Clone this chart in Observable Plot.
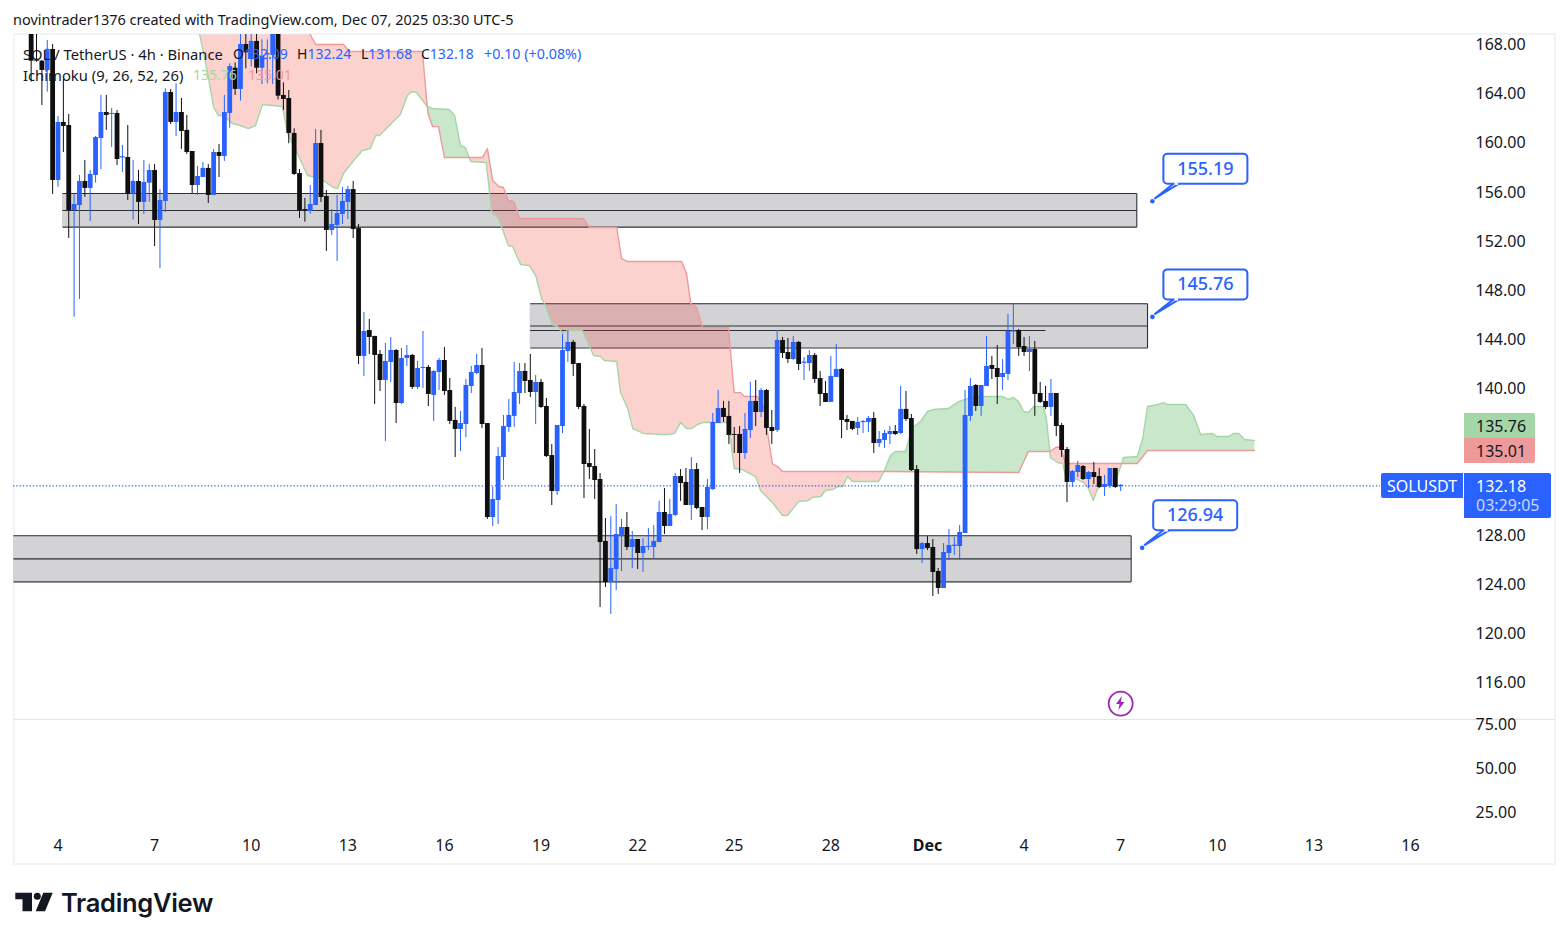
<!DOCTYPE html>
<html>
<head>
<meta charset="utf-8">
<style>
  html,body{margin:0;padding:0;background:#fff;}
  #stage{position:relative;width:1568px;height:940px;overflow:hidden;font-family:"Noto Sans",sans-serif;color:#131722;}
  #stage svg{position:absolute;left:0;background:none;}
  .abs{position:absolute;white-space:nowrap;line-height:1;}
  .tag{position:absolute;box-sizing:border-box;white-space:nowrap;font-size:16px;display:flex;align-items:center;}
  .blue{color:#2962ff}
</style>
<script src="https://cdn.jsdelivr.net/npm/d3@7"></script>
<script src="https://cdn.jsdelivr.net/npm/@observablehq/plot@0.6"></script>
</head>
<body>
<div id="stage">
  <div class="abs" style="left:13px;top:12px;font-size:14.5px;">novintrader1376 created with TradingView.com, Dec 07, 2025 03:30 UTC-5</div>
  <div class="abs" style="left:13px;top:33px;width:1539px;height:828px;border:2px solid #f0f3fa;"></div>
  <div class="abs" style="left:14px;top:719px;width:1540px;height:1px;background:#e0e3eb;"></div>
  <div id="charts"></div>
  <div class="abs" style="left:23px;top:46.5px;font-size:14.75px;">SOL / TetherUS · 4h · Binance</div>
  <div class="abs" style="left:233px;top:47px;font-size:14px;">O<span class="blue">132.09</span></div>
  <div class="abs" style="left:297px;top:47px;font-size:14px;">H<span class="blue">132.24</span></div>
  <div class="abs" style="left:361px;top:47px;font-size:14px;">L<span class="blue">131.68</span></div>
  <div class="abs" style="left:421px;top:47px;font-size:14px;">C<span class="blue">132.18</span></div>
  <div class="abs blue" style="left:484px;top:47px;font-size:14.3px;">+0.10 (+0.08%)</div>
  <div class="abs" style="left:23px;top:67.5px;font-size:14.8px;">Ichimoku (9, 26, 52, 26)</div>
  <div class="abs" style="left:193px;top:68px;font-size:14px;color:#a5d6a7;">135.76</div>
  <div class="abs" style="left:248px;top:68px;font-size:14px;color:#ef9a9a;">135.01</div>
  <div class="tag" style="left:1464px;top:413px;width:71px;height:25px;background:#a5d6a7;padding-left:12px;border-radius:0 2px 0 0;">135.76</div>
  <div class="tag" style="left:1464px;top:438px;width:71px;height:25px;background:#ef9a9a;padding-left:12px;border-radius:0 0 2px 0;">135.01</div>
  <div class="tag" style="left:1381px;top:473px;width:82px;height:25px;background:#2962ff;color:#fff;justify-content:center;border-radius:2px 0 0 2px;">SOLUSDT</div>
  <div class="tag" style="left:1464px;top:473px;width:87px;height:45px;background:#2962ff;color:#fff;padding-left:12px;flex-direction:column;align-items:flex-start;justify-content:center;line-height:19px;border-radius:0 2px 2px 0;"><span>132.18</span><span style="color:#c9d7ff;">03:29:05</span></div>
  <svg width="40" height="24" style="left:15px;top:892px;"><path d="M0.3 0.7H17V19.3H7.5V7.2H0.3Z" fill="#131722"></path><circle cx="22.3" cy="4.2" r="3.5" fill="#131722"></circle><path d="M28.3 0.7H37.7L30 19.3H20.7Z" fill="#131722"></path></svg>
  <div class="abs" style="left:61px;top:890px;font-family:Inter,sans-serif;font-weight:600;font-size:25.5px;color:#131722;letter-spacing:-0.3px;">TradingView</div>
</div>
<script>
// ---------- Candles: SOL/USDT 4h, bar number counted from the "4" tick ----------
const firstBar = -5;
const opens = [170.5,166.70,166.64,165.88,167.60,
156.92,161.65,161.40,154.47,154.88,156.84,156.27,157.33,160.34,162.46,
162.30,162.38,158.75,158.79,155.80,156.84,155.13,156.70,157.73,153.66,
155.21,164.09,161.65,162.46,161.00,159.28,156.51,157.16,157.90,155.70,
159.20,158.88,162.38,166.07,164.34,168.00,166.78,168.25,166.07,167.15,
167.11,169.50,163.85,163.60,160.75,157.49,154.55,154.39,154.88,159.93,
155.61,152.84,153.25,154.15,155.13,156.18,153.00,142.58,144.69,144.21,
142.74,140.62,142.09,143.06,138.74,142.41,142.66,140.05,141.60,141.68,
139.40,141.27,142.25,139.80,137.36,136.63,137.03,140.13,141.19,141.84,
137.11,129.45,130.84,134.34,136.79,137.69,139.56,141.35,140.62,139.64,
140.46,138.50,134.50,131.57,136.87,142.98,143.72,142.00,138.50,133.85,
133.61,132.55,127.50,124.15,125.21,127.98,128.64,127.01,127.66,126.52,
127.02,127.01,127.41,129.86,128.72,129.62,132.79,132.31,130.43,133.36,
130.27,129.45,131.73,137.11,138.34,137.69,136.22,136.22,134.67,136.54,
138.91,138.01,139.80,136.79,136.54,143.88,142.90,142.33,143.72,142.02,
142.00,142.66,140.78,139.56,138.83,140.86,141.52,137.44,137.28,136.71,
137.18,137.20,137.52,135.48,135.73,136.22,136.46,136.30,138.26,137.52,
133.36,126.84,127.33,127.01,125.05,123.67,126.52,127.10,127.09,128.15,
137.69,140.21,138.50,140.13,141.84,141.60,140.86,141.11,144.56,144.69,
143.39,142.90,143.15,139.56,138.91,138.42,139.56,136.95,134.99,132.31,
133.12,133.61,132.55,133.12,132.79,131.90,131.98,133.45,131.97];
const highs = [171.5,171.0,166.70,168.33,168.0,
162.14,165.15,162.30,155.78,157.33,158.55,157.73,160.50,163.85,163.85,
162.79,162.62,159.77,161.40,158.55,157.73,158.55,158.22,158.22,156.18,
164.39,164.34,164.80,163.60,162.22,159.28,158.06,158.39,158.22,159.45,
159.85,163.85,166.43,166.51,170.0,170.0,170.0,170.0,168.38,168.38,
171.0,171.0,164.88,164.25,161.13,157.81,155.45,156.51,161.08,161.00,
156.10,154.55,155.70,156.35,156.43,156.84,153.33,146.16,145.59,144.21,
143.06,143.64,144.12,143.15,143.23,143.47,142.74,142.17,144.61,141.84,
141.43,142.41,143.31,140.78,138.42,138.09,140.70,141.76,142.74,143.23,
137.11,131.90,135.16,137.77,139.07,142.09,142.00,142.00,142.74,141.03,
140.70,139.15,135.40,136.95,144.37,144.69,143.88,142.00,138.66,136.63,
134.99,133.04,129.37,129.53,130.51,129.29,129.86,128.31,127.66,127.74,
128.56,128.80,130.76,131.82,130.92,133.04,133.36,133.45,134.34,133.85,
130.27,132.55,137.93,139.80,138.91,138.91,136.79,136.87,137.93,140.46,
140.62,139.97,139.89,138.17,144.69,144.12,144.04,144.21,143.80,142.49,
143.06,142.82,141.35,140.54,142.58,143.55,141.60,137.77,137.28,137.60,
137.36,137.69,138.01,136.46,136.54,136.87,136.95,140.13,139.72,137.85,
133.69,127.41,127.90,127.66,125.29,127.33,128.47,127.82,128.80,139.80,
140.78,140.29,140.21,144.21,142.58,143.47,142.33,146.00,146.81,144.78,
144.12,144.21,143.80,140.46,140.13,140.70,139.56,137.11,135.16,133.28,
134.02,133.69,133.20,133.93,133.45,132.88,133.45,133.45,132.12];
const lows = [164.93,166.56,163.03,164.12,155.78,
156.37,159.20,152.19,145.78,147.22,155.56,153.58,156.70,157.79,161.00,
159.61,158.14,157.57,155.29,153.71,153.33,154.15,155.13,151.54,149.74,
154.31,161.48,160.50,159.45,159.04,155.86,155.70,157.16,155.04,155.70,
157.16,158.47,161.18,163.85,163.38,166.02,166.16,165.61,164.74,164.80,
164.74,163.49,162.62,159.91,157.33,153.82,153.52,154.15,154.88,155.13,
151.13,152.43,150.32,153.33,153.74,152.19,141.92,140.95,142.74,138.66,
139.72,135.65,140.46,137.11,138.66,141.76,139.89,139.89,139.97,138.50,
137.28,139.80,139.40,137.03,134.34,134.83,135.97,139.56,141.11,136.71,
129.29,128.72,128.88,132.47,136.38,136.79,138.66,139.56,139.23,137.03,
138.34,134.34,130.43,131.25,136.30,142.09,140.95,138.26,131.00,132.55,
130.92,122.12,123.75,121.55,123.50,125.05,126.76,125.29,125.21,124.97,
126.76,126.03,127.41,128.07,128.72,129.53,130.76,130.43,129.21,130.10,
128.39,128.47,131.65,137.11,137.20,135.40,134.67,133.04,134.18,135.89,
136.87,137.60,136.14,135.40,136.38,142.41,142.00,142.25,141.43,140.62,
141.35,140.38,138.50,138.83,138.83,140.86,135.89,136.54,136.54,136.14,
136.30,136.38,134.67,135.16,135.08,135.40,136.14,136.22,137.28,133.20,
126.44,125.70,126.76,123.01,123.18,123.67,125.95,126.35,125.95,128.15,
137.28,138.09,137.69,140.13,140.70,138.66,139.80,140.62,143.55,142.58,
142.58,141.35,137.69,138.74,138.26,137.69,136.05,134.34,130.67,131.90,
132.71,132.47,131.82,132.14,131.82,131.16,131.82,131.82,131.57];
const closes = [166.64,166.64,165.88,167.60,156.92,
161.65,161.32,154.47,154.96,156.84,156.27,157.41,160.42,162.46,162.22,
162.38,158.63,158.85,155.80,156.84,155.13,156.76,157.73,153.66,155.29,
164.09,161.65,162.46,160.91,159.20,156.51,157.24,157.90,155.70,159.20,
158.88,162.46,166.21,164.34,168.00,167.32,168.25,166.07,167.05,167.25,
169.50,163.79,163.52,160.75,157.41,154.47,154.47,154.96,159.93,155.53,
152.84,153.33,154.23,155.21,156.18,152.92,142.58,144.61,144.12,142.66,
140.62,142.17,143.06,138.74,142.41,142.66,140.05,141.60,141.68,139.48,
141.35,142.25,139.72,137.28,136.63,137.11,140.21,141.27,141.84,137.03,
129.45,130.92,134.42,136.87,137.77,139.64,141.35,140.54,139.64,140.46,
138.42,134.42,131.57,136.95,143.06,143.72,141.92,138.42,133.77,133.53,
132.47,127.41,124.15,125.29,128.07,128.64,127.01,127.66,126.52,127.09,
127.10,127.50,129.86,128.72,129.70,132.79,132.22,130.43,133.36,130.19,
129.45,131.90,137.20,138.34,137.60,136.14,136.14,134.67,136.63,138.91,
138.01,139.80,136.71,136.46,143.88,142.82,142.33,143.72,141.92,142.12,
142.66,140.70,139.48,138.83,140.95,141.52,137.36,137.20,136.63,137.20,
137.28,137.52,135.48,135.81,136.30,136.46,136.22,138.26,137.44,133.28,
126.84,127.33,126.93,124.97,123.67,126.60,127.17,127.20,128.23,137.77,
140.13,138.50,140.21,141.76,141.52,140.86,141.19,144.61,144.66,143.31,
142.90,143.15,139.48,138.83,138.42,139.56,136.87,134.91,132.31,133.20,
133.69,132.55,133.12,132.71,131.90,132.14,133.45,131.90,132.08];

// ---------- Ichimoku cloud outlines, read as vertices: [bar, price] ----------
const spanA = [[26.4,168.81],[27.9,165.64],[29.0,162.87],[29.9,162.21],[30.8,162.21],[32.5,161.56],[34.0,161.40],[35.5,161.15],[36.8,161.40],[38.1,163.11],[41.8,162.95],[42.8,160.75],[44.6,159.12],[46.5,157.32],[48.9,157.08],[51.3,156.35],[52.1,156.26],[53.2,157.49],[55.1,158.55],[56.7,159.36],[58.2,159.52],[59.2,160.58],[59.9,160.58],[63.8,162.30],[65.1,163.84],[65.9,164.17],[66.8,164.09],[68.8,162.95],[69.8,162.79],[72.9,162.70],[73.9,162.21],[75.0,159.77],[75.9,159.60],[76.6,158.79],[76.9,158.46],[79.8,158.38],[80.8,154.31],[82.1,153.82],[83.9,151.62],[84.7,151.54],[86.2,150.07],[87.8,149.99],[89.0,149.17],[90.1,147.30],[90.8,146.73],[92.1,145.18],[93.1,145.02],[94.0,144.45],[94.9,144.69],[97.7,144.69],[99.8,142.65],[101.1,142.57],[101.8,142.25],[104.1,142.16],[104.8,139.64],[106.1,138.41],[107.1,136.70],[109.1,136.30],[112.8,136.21],[114.9,136.30],[116.0,137.19],[117.1,136.70],[118.0,136.70],[119.2,137.03],[120.1,137.19],[124.9,137.19],[126.0,133.44],[127.5,133.36],[130.0,132.79],[130.9,131.65],[133.1,130.67],[135.0,129.61],[135.9,129.61],[138.0,130.75],[139.8,130.84],[140.6,131.08],[142.1,131.16],[143.0,131.65],[144.3,131.73],[145.4,131.98],[146.2,131.98],[147.1,132.79],[148.0,132.39],[152.9,132.39],[153.9,133.20],[155.1,134.50],[156.0,134.83],[157.9,134.83],[159.2,136.79],[160.7,137.28],[162.0,138.09],[163.1,138.25],[165.9,138.33],[167.8,138.90],[170.6,139.31],[176.0,139.31],[177.1,139.07],[178.0,139.23],[179.0,138.90],[179.9,138.09],[180.8,138.01],[181.8,138.50],[183.6,138.50],[184.2,137.36],[184.8,134.83],[184.9,134.34],[186.2,133.93],[187.2,133.85],[187.7,132.87],[189.6,132.63],[191.1,132.30],[192.0,131.81],[192.9,130.84],[193.7,131.81],[194.6,132.06],[196.7,132.06],[197.6,133.12],[198.2,133.85],[198.5,134.34],[201.1,134.42],[202.1,135.89],[203.0,138.50],[205.0,138.66],[206.0,138.82],[206.7,138.66],[210.1,138.66],[211.6,137.77],[212.9,136.22],[215.1,136.30],[216.0,136.05],[218.1,136.05],[219.0,136.30],[220.0,136.30],[221.1,135.81],[222.9,135.73]];
const spanB = [[47.0,168.81],[48.0,168.0],[53.2,168.0],[54.3,167.43],[67.9,167.43],[68.8,162.95],[69.0,162.29],[69.8,161.31],[70.9,161.31],[72.0,158.79],[76.6,158.79],[79.1,158.79],[80.0,159.52],[81.0,156.91],[82.1,156.43],[83.0,156.35],[83.9,155.29],[84.9,155.21],[86.0,153.82],[97.9,153.82],[99.0,153.09],[104.1,153.09],[105.0,150.56],[106.1,150.31],[116.2,150.31],[117.1,149.34],[117.9,146.89],[119.0,146.56],[120.1,144.93],[124.9,144.93],[126.0,139.63],[127.2,139.63],[127.9,139.31],[130.3,139.31],[131.5,138.41],[133.1,133.85],[134.3,133.52],[135.0,133.20],[153.9,133.20],[179.0,133.12],[180.8,134.83],[184.8,134.83],[185.9,135.16],[186.8,135.24],[187.7,133.85],[198.2,133.85],[201.1,133.85],[203.0,134.91],[222.9,134.91]];
// bars where the two spans cross: the cloud changes colour between them
const redStretches = [[26.4,68.8],[76.6,153.9],[184.8,198.2]];
const greenStretches = [[68.8,76.6],[153.9,184.8],[198.2,222.9]];

// ---------- Drawn supply / demand boxes: [first bar, last bar, top, middle, bottom] ----------
const zones = [[0.84,201.0,155.86,154.47,153.12],[87.98,203.0,146.87,145.06,143.26],[-8.29,199.95,127.96,126.08,124.21]];
const trendLine = {bar1:87.98, bar2:184.0, price:144.69};

// ---------- Call-outs ----------
const calloutValues = [155.19,145.76,126.94];
const calloutBars = [204.0,204.0,202.1];

// ---------- Axes ----------
const priceTicks = [116,120,124,128,140,144,148,152,156,160,164,168];
const lowerTicks = [75,50,25];
const dateBars = [0,18,36,54,72,90,108,126,144,162,180,198,216,234,252];
const dateLabels = ["4","7","10","13","16","19","22","25","28","Dec","4","7","10","13","16"];
const priceLine = 132.03;
const alertBar = 198, alertPrice = 114.29;

const blue = "#2962ff", black = "#0f0f0f";
const xDomain = [-8.29, 262.06];
const font = '"Noto Sans", sans-serif';

const candles = opens.map((o,j) => ({i:firstBar+j, o, h:highs[j], l:lows[j], c:closes[j]}));
const up = candles.filter(d => d.c >= d.o), down = candles.filter(d => d.c < d.o);
const rowsOf = (a) => a.map(([i,p]) => ({i,p}));
const A = rowsOf(spanA), B = rowsOf(spanB);
const cloudRows = (stretches) => stretches.flatMap(([s,e],k) => [
  ...A.filter(d => d.i>=s && d.i<=e).map(d => ({...d,k})),
  ...B.filter(d => d.i>=s && d.i<=e).reverse().map(d => ({...d,k}))
]);
const zoneRows = zones.map(([x1,x2,top,mid,bot]) => ({x1,x2,top,mid,bot}));
const zoneStroke = "#2a2e39";

const main = Plot.plot({
  width:1568, height:719, marginTop:34, marginBottom:0, marginLeft:13, marginRight:104,
  x:{type:"linear", domain:xDomain, axis:null},
  y:{domain:[112.99,168.815], axis:null},
  style:{fontFamily:font, background:"none", overflow:"hidden"},
  marks:[
    Plot.rect(zoneRows,{x1:"x1",x2:"x2",y1:"bot",y2:"top",fill:"#d3d3d6",clip:true}),
    Plot.link(zoneRows,{x1:"x1",x2:"x2",y1:"top",y2:"top",stroke:zoneStroke,strokeWidth:1.1}),
    Plot.link(zoneRows,{x1:"x1",x2:"x2",y1:"mid",y2:"mid",stroke:zoneStroke,strokeWidth:1.1}),
    Plot.link(zoneRows,{x1:"x1",x2:"x2",y1:"bot",y2:"bot",stroke:zoneStroke,strokeWidth:1.1}),
    Plot.link(zoneRows,{x1:"x2",x2:"x2",y1:"bot",y2:"top",stroke:zoneStroke,strokeWidth:1.1}),
    Plot.link([trendLine],{x1:"bar1",x2:"bar2",y1:"price",y2:"price",stroke:zoneStroke,strokeWidth:1.1}),
    Plot.line(cloudRows(redStretches),{x:"i",y:"p",z:"k",fill:"#f44336",fillOpacity:0.24,stroke:"none",clip:true}),
    Plot.line(cloudRows(greenStretches),{x:"i",y:"p",z:"k",fill:"#4caf50",fillOpacity:0.3,stroke:"none",clip:true}),
    Plot.line(A,{x:"i",y:"p",stroke:"#a5d6a7",strokeWidth:1.4,clip:true}),
    Plot.line(B,{x:"i",y:"p",stroke:"#ef9a9a",strokeWidth:1.4,clip:true}),
    Plot.ruleY([priceLine],{x1:xDomain[0],x2:(1380-57.5)/5.367,stroke:blue,strokeWidth:1.3,strokeDasharray:"1.3 2"}),
    Plot.ruleX(up,{x:"i",y1:"l",y2:"h",stroke:blue,strokeWidth:1,clip:true}),
    Plot.ruleX(down,{x:"i",y1:"l",y2:"h",stroke:black,strokeWidth:1,clip:true}),
    Plot.ruleX(up,{x:"i",y1:"o",y2:"c",stroke:blue,strokeWidth:4.8,strokeLinecap:"butt",clip:true}),
    Plot.ruleX(down,{x:"i",y1:"o",y2:"c",stroke:black,strokeWidth:4.8,strokeLinecap:"butt",clip:true}),
    Plot.dot([{i:alertBar,p:alertPrice}],{x:"i",y:"p",r:12,fill:"white",stroke:"#9c27b0",strokeWidth:1.8}),
    Plot.axisY(priceTicks,{anchor:"right",tickSize:0,tickPadding:11,dy:0.7,tickFormat:d=>d.toFixed(2),fontSize:16,fill:"#131722",label:null})
  ]
});
main.style.top="0px";
document.getElementById("charts").appendChild(main);

// call-out bubbles and the alert bolt, anchored on their values through the plot's own scales
const sx = main.scale("x"), sy = main.scale("y");
const layer = d3.select(main).append("g");
calloutValues.forEach((v,k) => {
  const dx = sx.apply(calloutBars[k]), dy = sy.apply(v);
  const left = dx+11, top = dy-47.5, w = 84, h = 30;
  const g = layer.append("g");
  g.append("path").attr("d",`M${left+10},${top+h} L${dx+2},${dy-2.5} L${left+15.7},${top+h}`)
    .attr("fill","white").attr("stroke",blue).attr("stroke-width",2);
  g.append("rect").attr("x",left).attr("y",top).attr("width",w).attr("height",h).attr("rx",4)
    .attr("fill","white").attr("stroke",blue).attr("stroke-width",2);
  g.append("path").attr("d",`M${left+11},${top+h} L${left+14.7},${top+h}`).attr("stroke","white").attr("stroke-width",2.4);
  g.append("circle").attr("cx",dx).attr("cy",dy).attr("r",2.3).attr("fill",blue);
  g.append("text").attr("x",left+w/2).attr("y",top+h/2-1).attr("text-anchor","middle").attr("dominant-baseline","central")
    .attr("fill",blue).attr("font-size",18).attr("font-weight",500).text(v.toFixed(2));
});
layer.append("path")
  .attr("transform",`translate(${sx.apply(alertBar)},${sy.apply(alertPrice)})`)
  .attr("d","M1.8,-7 L-4.2,1 L-0.6,1 L-1.8,7 L4.2,-1 L0.6,-1 Z")
  .attr("fill","#9c27b0");

const dateRows = dateBars.map((b,j) => ({b,t:dateLabels[j]}));
const lower = Plot.plot({
  width:1568, height:221, marginTop:0, marginBottom:110, marginLeft:13, marginRight:104,
  x:{type:"linear", domain:xDomain, axis:null},
  y:{domain:[14.77,77.84], axis:null},
  style:{fontFamily:font, background:"none", overflow:"visible"},
  marks:[
    Plot.axisY(lowerTicks,{anchor:"right",tickSize:0,tickPadding:11,tickFormat:d=>d.toFixed(2),fontSize:16,fill:"#131722",label:null}),
    Plot.text(dateRows.filter(d=>d.t!=="Dec"),{x:"b",text:"t",frameAnchor:"bottom",dy:15,lineAnchor:"middle",fontSize:16,fill:"#131722"}),
    Plot.text(dateRows.filter(d=>d.t==="Dec"),{x:"b",text:"t",frameAnchor:"bottom",dy:15,lineAnchor:"middle",fontSize:16,fontWeight:700,fill:"#131722"})
  ]
});
lower.style.top="719px";
document.getElementById("charts").appendChild(lower);
</script>
</body>
</html>
